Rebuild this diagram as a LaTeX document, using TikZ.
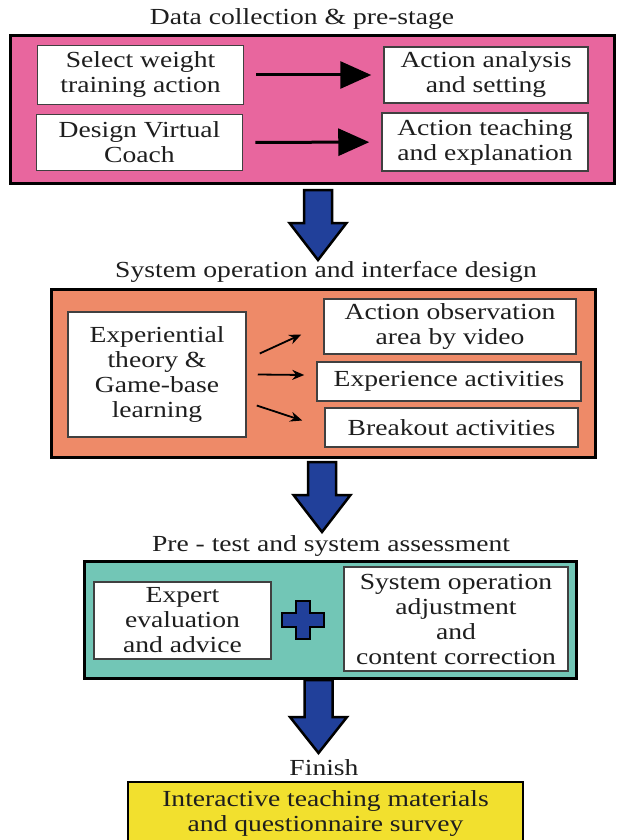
\documentclass[tikz,border=0pt]{standalone}
\usepackage{fontspec}
\setmainfont[FakeStretch=1.2]{Liberation Serif}
\usetikzlibrary{arrows.meta, calc, positioning}
\definecolor{stagepink}{RGB}{232, 102, 158}
\definecolor{stageorange}{RGB}{238, 138, 104}
\definecolor{stageteal}{RGB}{114, 198, 182}
\definecolor{finishyellow}{RGB}{242, 224, 46}
\definecolor{arrowblue}{RGB}{33, 64, 154}
\definecolor{inktext}{RGB}{30, 30, 30}

\begin{document}
\begin{tikzpicture}[x=1pt, y=-1pt,
		every node/.style={text=inktext, font=\fontsize{23}{25}\selectfont},
		stagebox/.style={draw=black, line width=3pt, inner sep=0pt},
		itembox/.style={draw=black!75, fill=white, line width=1.5pt,
			inner sep=0pt, align=center},
		titletext/.style={inner sep=0pt},
		bigarr/.style={-{Triangle[length=31pt, width=27pt]}, line width=3pt,
			shorten <=12pt, shorten >=12pt},
		smallarr/.style={-{Stealth[length=12pt, width=10pt]}, line width=1.8pt},
		flowarr/.style={draw=black, line width=2.5pt, fill=arrowblue, line join=miter}
		]
		\clip (0,0) rectangle (616,840);
		% stage 1
		\node[titletext] (tt1) at (302,19) {Data collection \& pre-stage};
		\node[stagebox, fill=stagepink, minimum width=604pt, minimum height=147pt]
		(stage1) at (312,109.5) {};
		\node[itembox, minimum width=206pt, minimum height=59pt] (sel) at (140.5,75)
		{Select weight\\training action};
		\node[itembox, minimum width=204pt, minimum height=56pt] (ana) at (486,75)
		{Action analysis\\and setting};
		\node[itembox, minimum width=206pt, minimum height=56pt] (des) at (139.5,142.5)
		{Design Virtual\\Coach};
		\node[itembox, minimum width=206pt, minimum height=58pt] (tea) at (485,142)
		{Action teaching\\and explanation};
		\draw[bigarr] (sel) -- (ana);
		\draw[bigarr] (des) -- (tea);
		
		% stage 2
		\node[titletext] (tt2) at (326,272) {System operation and interface design};
		\node[stagebox, fill=stageorange, minimum width=544pt, minimum height=168pt]
		(stage2) at (323,373) {};
		\node[itembox, minimum width=178pt, minimum height=125pt] (exp) at (157,374.5)
		{Experiential\\theory \&\\Game-base\\learning};
		\node[itembox, minimum width=252pt, minimum height=55pt] (obs) at (450,326.5)
		{Action observation\\area by video};
		\node[itembox, minimum width=264pt, minimum height=39pt] (act) at (449,381.5)
		{Experience activities};
		\node[itembox, minimum width=253pt, minimum height=39pt] (brk) at (451.5,427.5)
		{Breakout activities};
		\draw[smallarr] ($(exp.east)+(13,-21)$) -- ($(obs.west)+(-22,8)$);
		\draw[smallarr] ($(exp.east)+(11,0)$) -- ($(act.west)+(-12,-6.5)$);
		\draw[smallarr] ($(exp.east)+(10,31)$) -- ($(brk.west)+(-22,-7)$);
		
		% stage 3
		\node[titletext] (tt3) at (331,546) {Pre - test and system assessment};
		\node[stagebox, fill=stageteal, minimum width=492pt, minimum height=117pt]
		(stage3) at (330,619.5) {};
		\node[itembox, minimum width=177pt, minimum height=77pt] (evl) at (182.5,620.5)
		{Expert\\evaluation\\and advice};
		\node[itembox, minimum width=224pt, minimum height=104pt] (adj) at (456,619)
		{System operation\\adjustment\\and\\content correction};
		\coordinate (plus) at (303,620);
		\draw[flowarr] ($(plus)+(-7,-19)$) -- ++(14,0) -- ++(0,12) -- ++(14,0)
		-- ++(0,14) -- ++(-14,0) -- ++(0,12) -- ++(-14,0) -- ++(0,-12)
		-- ++(-14,0) -- ++(0,-14) -- ++(14,0) -- cycle;
		
		% finish
		\node[titletext] (tt4) at (324,768) {Finish};
		\node[stagebox, line width=2.5pt, fill=finishyellow, align=center,
		minimum width=395pt, minimum height=62pt] (fin) at (325.5,813)
		{Interactive teaching materials\\and questionnaire survey};
		
		% block arrows between stages
		\foreach \cx/\ytop/\yhead/\ytip in {318/190/223/260, 322/462/495/532, 318.5/680/717/753}
		\draw[flowarr] (\cx-14,\ytop) -- (\cx+14,\ytop) -- (\cx+14,\yhead)
		-- (\cx+28.5,\yhead) -- (\cx,\ytip) -- (\cx-28.5,\yhead)
		-- (\cx-14,\yhead) -- cycle;
	\end{tikzpicture}
\end{document}
